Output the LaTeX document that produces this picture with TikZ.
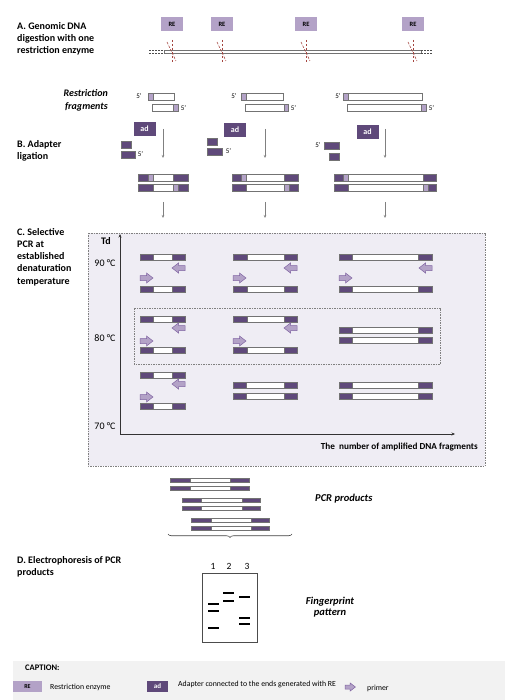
\documentclass[tikz,border=0pt]{standalone}
\usepackage{fontspec}
\setmainfont{Carlito}
\usetikzlibrary{arrows.meta}
\usetikzlibrary{positioning}
\usetikzlibrary{decorations.pathreplacing}
\definecolor{relav}{HTML}{B3A2C7}
\definecolor{adpur}{HTML}{5F497A}
\definecolor{primerline}{HTML}{8064A2}
\definecolor{boxbg}{HTML}{EFEDF4}
\definecolor{capbg}{HTML}{F2F2F2}
\definecolor{cutred}{HTML}{A5453F}
\tikzset{enzyme/.style={fill=relav, minimum width=22pt, minimum height=14pt, inner sep=0pt, font=\fontsize{6.5}{7}\selectfont\bfseries}}
\tikzset{adapter/.style={fill=adpur, text=white, minimum width=22pt, minimum height=14pt, inner sep=0pt, font=\fontsize{8}{8}\selectfont\bfseries}}
\tikzset{steplabel/.style={anchor=north west, align=left, inner sep=0pt, font=\fontsize{10}{12.2}\selectfont\bfseries}}
\tikzset{note/.style={inner sep=0pt, font=\fontsize{10.5}{12}\selectfont\bfseries\itshape}}
\tikzset{prime/.style={inner sep=0pt, font=\fontsize{7}{7}\selectfont}}
\tikzset{temp/.style={inner sep=0pt, font=\fontsize{10}{10}\selectfont}}
\tikzset{legend/.style={inner sep=0pt, anchor=west, font=\fontsize{7.8}{8}\selectfont}}
\tikzset{piece/.style={draw=black!55, line width=0.5pt}}
\tikzset{cut/.style={draw=cutred, line width=0.6pt, dash pattern=on 2.5pt off 1.5pt}}
\tikzset{flow/.style={draw=gray, line width=0.6pt, -{Stealth[length=3pt,width=2.5pt]}}}
\tikzset{axis/.style={draw=black!80, line width=0.6pt, -{Stealth[length=3.5pt,width=3pt]}}}
\tikzset{band/.style={draw=black, line width=2pt}}
\tikzset{primer/.pic={\filldraw[fill=relav, draw=primerline, line width=0.5pt] (0,-2.5) -- (6.5,-2.5) -- (6.5,-5) -- (13,0) -- (6.5,5) -- (6.5,2.5) -- (0,2.5) -- cycle;}}
\newcommand{\piece}[5]{\filldraw[piece,fill=#5] (#1,#3) rectangle (#2,#4);}
\newcommand{\pcrstrand}[6]{\piece{#1}{#2}{#5}{#6}{adpur}\piece{#2}{#3}{#5}{#6}{white}\piece{#3}{#4}{#5}{#6}{adpur}}
\newcommand{\ligtop}[6]{\piece{#1}{#2}{#6}{#6+7}{adpur}\piece{#2}{#3}{#6}{#6+7}{relav}\piece{#3}{#4}{#6}{#6+7}{white}\piece{#4}{#5}{#6}{#6+7}{adpur}}
\newcommand{\ligbot}[6]{\piece{#1}{#2}{#6}{#6+7}{adpur}\piece{#2}{#3}{#6}{#6+7}{white}\piece{#3}{#4}{#6}{#6+7}{relav}\piece{#4}{#5}{#6}{#6+7}{adpur}}
\newcommand{\fragtop}[4]{\piece{#1}{#2}{#4}{#4+7}{relav}\piece{#2}{#3}{#4}{#4+7}{white}}
\newcommand{\fragbot}[4]{\piece{#1}{#2}{#4}{#4+7}{white}\piece{#2}{#3}{#4}{#4+7}{relav}}
\begin{document}
\begin{tikzpicture}[x=1pt,y=-1pt]
\useasboundingbox (0,0) rectangle (505,700);
\fill[boxbg] (88,233) rectangle (485,466);
\draw[gray, dash pattern=on 1.5pt off 1pt, line width=0.5pt] (88,233) rectangle (485,466);
\draw[gray, dash pattern=on 1.5pt off 1pt, line width=0.5pt] (134,308) rectangle (440,364);
\fill[capbg] (13,661) rectangle (505,700);

\node[steplabel] (stepA) at (17,22) {A. Genomic DNA\\digestion with one\\restriction enzyme};
\filldraw[piece, fill=white] (164,50) rectangle (421,53);
\draw[black!70, dash pattern=on 2pt off 1pt] (149,50) -- (164,50) (149,53) -- (164,53);
\draw[black!70, dash pattern=on 2pt off 1pt] (421,50) -- (432,50) (421,53) -- (432,53);
\foreach \i/\x in {1/172,2/222,3/306,4/413} {
  \node[enzyme] (re\i) at (\x,24) {RE};
  \draw[cut] (\x,40) -- (\x,62);
  \draw[cut] (\x-5,42) -- (\x+4,61);
}

\node[note, anchor=north east, align=right, font=\fontsize{10}{13}\selectfont\bfseries\itshape] (frag) at (108,89) {Restriction\\fragments};
\fragtop{148}{153}{174}{93} \fragbot{152}{173}{178}{104}
\fragtop{241}{246}{283}{93} \fragbot{245}{284}{288}{104}
\fragtop{343}{348}{422}{93} \fragbot{347}{421}{426}{104}
\node[prime] (p1a) at (139,96.5) {5'};
\node[prime] (p1b) at (183.5,108) {5'};
\node[prime] (p2a) at (234,96.5) {5'};
\node[prime] (p2b) at (293.5,108) {5'};
\node[prime] (p3a) at (338,96.5) {5'};
\node[prime] (p3b) at (431.5,108) {5'};

\node[steplabel] (stepB) at (17,140) {B. Adapter\\ligation};
\node[adapter] (ad1) at (144.5,129) {ad};
\node[adapter] (ad2) at (235,130) {ad};
\node[adapter] (ad3) at (367.5,132) {ad};
\piece{121}{131}{141}{148}{adpur} \piece{121}{135}{151}{158}{adpur}
\piece{207}{217}{138}{145}{adpur} \piece{207}{222}{148}{155}{adpur}
\piece{324}{339}{142}{149}{adpur} \piece{329}{339}{153}{160}{adpur}
\node[prime] (p4) at (140.5,154.5) {5'};
\node[prime] (p5) at (228.5,151.5) {5'};
\node[prime] (p6) at (318,145.5) {5'};
\foreach \i/\x in {1/163,2/265,3/385} {
  \coordinate (in\i) at (\x,129);
  \coordinate (out\i) at (\x,158);
  \draw[flow] (in\i) -- (out\i);
  \coordinate (pin\i) at (\x,202);
  \coordinate (pout\i) at (\x,218);
  \draw[flow] (pin\i) -- (pout\i);
}
\ligtop{138}{148}{153}{173}{188}{174} \ligbot{138}{153}{173}{178}{188}{184}
\ligtop{232}{241}{246}{284}{298}{174} \ligbot{232}{246}{284}{289}{298}{184}
\ligtop{334}{343}{348}{423}{436}{174} \ligbot{334}{348}{423}{428}{436}{184}

\node[steplabel] (stepC) at (17,228) {C. Selective\\PCR at\\established\\denaturation\\temperature};
\coordinate (origin) at (120,434);
\coordinate (tdtop) at (120,234);
\coordinate (nend) at (455,434);
\draw[axis] (origin) -- (tdtop);
\draw[axis] (origin) -- (nend);
\node[inner sep=0pt, font=\fontsize{10}{10}\selectfont\bfseries] (td) at (106,241) {Td};
\node[temp] (t90) at (105,263) {90 °C};
\node[temp] (t80) at (105,338) {80 °C};
\node[temp] (t70) at (105,426) {70 °C};
\node[inner sep=0pt, anchor=east, font=\fontsize{9.2}{9}\selectfont\bfseries] (nfrag) at (478,447) {The~~number of amplified DNA fragments};
\foreach \a/\b/\c/\d in {140/153/172/185, 233/247/284/297, 339/352/418/432} {
  \pcrstrand{\a}{\b}{\c}{\d}{254}{260}
  \pcrstrand{\a}{\b}{\c}{\d}{286}{292}
  \pic[xscale=-1] at (\d,268) {primer};
  \pic at (\a,278) {primer};
}
\foreach \a/\b/\c/\d in {140/153/172/185, 233/247/284/297} {
  \pcrstrand{\a}{\b}{\c}{\d}{316}{322}
  \pcrstrand{\a}{\b}{\c}{\d}{347}{353}
  \pic[xscale=-1] at (\d,328) {primer};
  \pic at (\a,341) {primer};
}
\pcrstrand{339}{352}{418}{432}{327}{333}
\pcrstrand{339}{352}{418}{432}{337}{343}
\pcrstrand{140}{153}{172}{185}{372}{378}
\pcrstrand{140}{153}{172}{185}{403}{409}
\pic[xscale=-1] at (185,384) {primer};
\pic at (140,397) {primer};
\foreach \a/\b/\c/\d in {233/246/284/297, 339/352/418/432} {
  \pcrstrand{\a}{\b}{\c}{\d}{382}{388}
  \pcrstrand{\a}{\b}{\c}{\d}{393}{399}
}

\pcrstrand{170}{190}{230}{249}{478}{482}
\pcrstrand{170}{190}{230}{249}{486}{490}
\pcrstrand{182}{201}{242}{260}{498}{502}
\pcrstrand{182}{201}{242}{260}{506}{510}
\pcrstrand{191}{211}{251}{269}{518}{522}
\pcrstrand{191}{211}{251}{269}{526}{530}
\node[note, anchor=west] (prod) at (315,499) {PCR products};
\coordinate (bl) at (168,534);
\coordinate (br) at (292,534);
\draw[black!75, line width=0.6pt, decorate, decoration={brace, mirror, amplitude=3.5pt}] (bl) -- (br);

\node[steplabel] (stepD) at (17,556) {D. Electrophoresis of PCR\\products};
\node[temp, font=\fontsize{9.5}{10}\selectfont] (l1) at (213,566) {1};
\node[temp, font=\fontsize{9.5}{10}\selectfont] (l2) at (229,566) {2};
\node[temp, font=\fontsize{9.5}{10}\selectfont] (l3) at (247,566) {3};
\draw[black!70, line width=0.6pt] (202,573) rectangle (257,642);
\draw[band] (208,604) -- (219,604) (208,611) -- (219,611) (208,628) -- (219,628);
\draw[band] (223,593) -- (234,593) (223,601) -- (234,601);
\draw[band] (239,597) -- (250,597) (239,618) -- (250,618) (239,624) -- (250,624);
\node[note, align=center, font=\fontsize{10.5}{11}\selectfont\bfseries\itshape] (finger) at (330,607) {Fingerprint\\pattern};

\node[legend, font=\fontsize{8.5}{9}\selectfont\bfseries] (cap) at (25,668) {CAPTION:};
\node[enzyme, minimum width=29pt, minimum height=11pt, font=\fontsize{6}{6}\selectfont\bfseries] (lre) at (27.5,686.5) {RE};
\node[legend] (lretext) at (50,687) {Restriction enzyme};
\node[adapter, minimum width=21pt, minimum height=11pt, font=\fontsize{7}{7}\selectfont\bfseries] (lad) at (157.5,686.5) {ad};
\node[legend] (ladtext) at (178,684) {Adapter connected to the ends generated with RE};
\pic[scale=0.8] at (345,687) {primer};
\node[legend] (lprimer) at (367,688) {primer};
\end{tikzpicture}
\end{document}
